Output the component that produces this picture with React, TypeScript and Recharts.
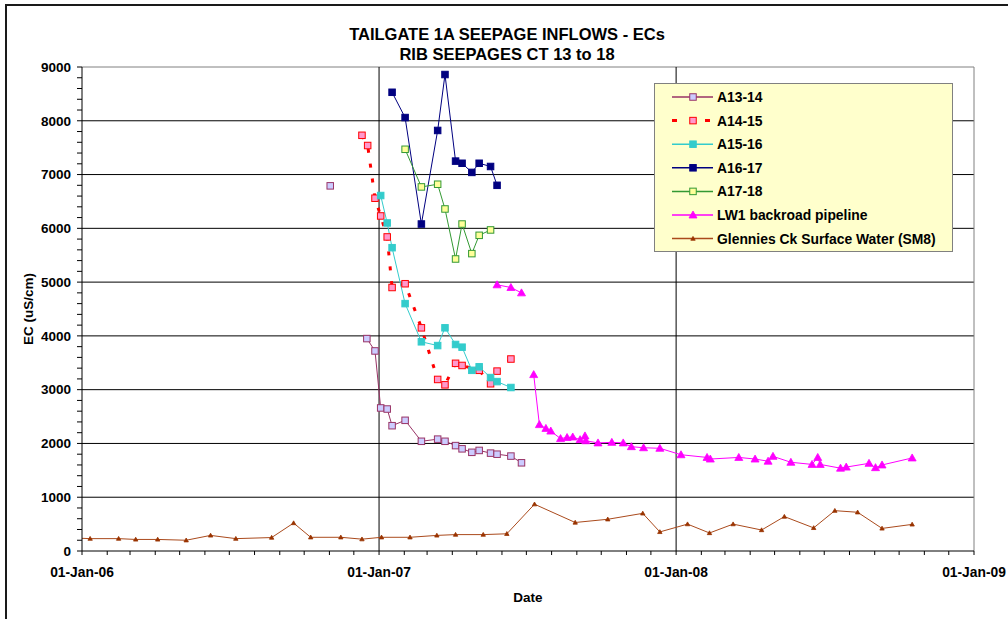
import React from 'react';
import { LineChart, Line, XAxis, YAxis, ReferenceLine, Legend, Label } from 'recharts';

type Pt = [string, number];

const FONT = 'Arial, "Liberation Sans", sans-serif';

// sample dates / EC readings (uS/cm)
const A13_14_FIRST: Pt[] = [['2006-11-02', 6790]];
const A13_14: Pt[] = [
  ['2006-12-17', 3950], ['2006-12-27', 3720], ['2007-01-03', 2660], ['2007-01-11', 2640],
  ['2007-01-17', 2330], ['2007-02-02', 2430], ['2007-02-22', 2040], ['2007-03-14', 2080],
  ['2007-03-23', 2040], ['2007-04-05', 1960], ['2007-04-13', 1900], ['2007-04-25', 1835],
  ['2007-05-04', 1870], ['2007-05-18', 1820], ['2007-05-26', 1800], ['2007-06-12', 1765],
  ['2007-06-25', 1640],
];
const A14_15: Pt[] = [
  ['2006-12-11', 7730], ['2006-12-18', 7540], ['2006-12-27', 6560], ['2007-01-03', 6230],
  ['2007-01-11', 5840], ['2007-01-17', 4900], ['2007-02-02', 4970], ['2007-02-22', 4150],
  ['2007-03-14', 3190], ['2007-03-23', 3090], ['2007-04-05', 3490], ['2007-04-13', 3450],
  ['2007-05-04', 3360], ['2007-05-18', 3110], ['2007-05-26', 3345], ['2007-06-12', 3570],
];
const A15_16: Pt[] = [
  ['2007-01-03', 6610], ['2007-01-11', 6100], ['2007-01-17', 5640], ['2007-02-02', 4600],
  ['2007-02-22', 3890], ['2007-03-14', 3820], ['2007-03-23', 4150], ['2007-04-05', 3840],
  ['2007-04-13', 3790], ['2007-04-25', 3360], ['2007-05-04', 3425], ['2007-05-18', 3225],
  ['2007-05-26', 3150], ['2007-06-12', 3040],
];
const A16_17: Pt[] = [
  ['2007-01-17', 8530], ['2007-02-02', 8060], ['2007-02-22', 6080], ['2007-03-14', 7820],
  ['2007-03-23', 8860], ['2007-04-05', 7250], ['2007-04-13', 7210], ['2007-04-25', 7040],
  ['2007-05-04', 7210], ['2007-05-18', 7150], ['2007-05-26', 6800],
];
const A17_18: Pt[] = [
  ['2007-02-02', 7470], ['2007-02-22', 6770], ['2007-03-14', 6820], ['2007-03-23', 6360],
  ['2007-04-05', 5430], ['2007-04-13', 6080], ['2007-04-25', 5530], ['2007-05-04', 5870],
  ['2007-05-18', 5970],
];
const LW1_FIRST: Pt[] = [['2007-05-26', 4950], ['2007-06-12', 4900], ['2007-06-25', 4800]];
const LW1: Pt[] = [
  ['2007-07-10', 3280], ['2007-07-17', 2350], ['2007-07-25', 2280], ['2007-07-31', 2230],
  ['2007-08-12', 2090], ['2007-08-20', 2110], ['2007-08-27', 2120], ['2007-09-05', 2070],
  ['2007-09-11', 2140], ['2007-09-12', 2050], ['2007-09-27', 2010], ['2007-10-14', 2020],
  ['2007-10-28', 2010], ['2007-11-07', 1940], ['2007-11-22', 1920], ['2007-12-12', 1910],
  ['2008-01-07', 1790], ['2008-02-08', 1740], ['2008-02-12', 1710], ['2008-03-18', 1740],
  ['2008-04-07', 1710], ['2008-04-23', 1670], ['2008-04-29', 1760], ['2008-05-21', 1650],
  ['2008-06-16', 1610], ['2008-06-23', 1740], ['2008-06-26', 1610], ['2008-07-21', 1540],
  ['2008-07-28', 1560], ['2008-08-25', 1630], ['2008-09-02', 1550], ['2008-09-10', 1600],
  ['2008-10-17', 1730],
];
const SM8: Pt[] = [
  ['2005-12-15', 245], ['2006-01-11', 230], ['2006-02-15', 230], ['2006-03-08', 215],
  ['2006-04-04', 215], ['2006-05-09', 200], ['2006-06-08', 290], ['2006-07-09', 230],
  ['2006-08-22', 250], ['2006-09-18', 520], ['2006-10-09', 255], ['2006-11-15', 255],
  ['2006-12-11', 220], ['2007-01-04', 255], ['2007-02-08', 255], ['2007-03-13', 290],
  ['2007-04-05', 305], ['2007-05-09', 305], ['2007-06-07', 320], ['2007-07-11', 870],
  ['2007-08-30', 530], ['2007-10-09', 590], ['2007-11-21', 700], ['2007-12-12', 355],
  ['2008-01-15', 500], ['2008-02-11', 335], ['2008-03-11', 500], ['2008-04-15', 390],
  ['2008-05-13', 640], ['2008-06-18', 430], ['2008-07-14', 750], ['2008-08-11', 720],
  ['2008-09-10', 420], ['2008-10-17', 495],
];

const YEAR_DATES = ['2006-01-01', '2007-01-01', '2008-01-01', '2009-01-01'];
const YEAR_LABELS = ['01-Jan-06', '01-Jan-07', '01-Jan-08', '01-Jan-09'];
const Y_LABELS = [0, 1000, 2000, 3000, 4000, 5000, 6000, 7000, 8000, 9000];
const Y_MINOR_STEP = 200;

const day = (s: string) => Date.parse(s + 'T00:00:00Z');
const pts = (rows: Pt[]) => rows.map(([d, v]) => ({ t: day(d), v }));

const YEAR_TICKS = YEAR_DATES.map(day);
// month-start minor ticks along the date axis
const MONTH_TICKS: number[] = [];
for (let y = 2006; y <= 2008; y++) for (let m = 0; m < 12; m++) MONTH_TICKS.push(Date.UTC(y, m, 1));
MONTH_TICKS.push(YEAR_TICKS[3]);
const Y_TICKS: number[] = [];
for (let v = 0; v <= 9000; v += Y_MINOR_STEP) Y_TICKS.push(v);

type Marker = { shape: 'square' | 'tri' | 'smalltri'; fill: string; stroke: string };
type SeriesStyle = { name: string; color: string; width: number; dash?: string; legendDash?: string; marker: Marker };

const SERIES: SeriesStyle[] = [
  { name: 'A13-14', color: '#993366', width: 1, marker: { shape: 'square', fill: '#CCCCFF', stroke: '#993366' } },
  { name: 'A14-15', color: '#FF0000', width: 3, dash: '4 11', legendDash: '5 28', marker: { shape: 'square', fill: '#FF99CC', stroke: '#FF0000' } },
  { name: 'A15-16', color: '#33CCCC', width: 1, marker: { shape: 'square', fill: '#33CCCC', stroke: '#33CCCC' } },
  { name: 'A16-17', color: '#000080', width: 1, marker: { shape: 'square', fill: '#000080', stroke: '#000080' } },
  { name: 'A17-18', color: '#339933', width: 1, marker: { shape: 'square', fill: '#FFFF99', stroke: '#339933' } },
  { name: 'LW1 backroad pipeline', color: '#FF00FF', width: 1, marker: { shape: 'tri', fill: '#FF00FF', stroke: '#FF00FF' } },
  { name: 'Glennies Ck Surface Water (SM8)', color: '#AA4A1C', width: 1, marker: { shape: 'smalltri', fill: '#993300', stroke: '#993300' } },
];

const markerShape = (m: Marker, cx: number, cy: number, key?: any) => {
  if (m.shape === 'square') {
    return <rect key={key} x={cx - 3.25} y={cy - 3.25} width={6.5} height={6.5} fill={m.fill} stroke={m.stroke} strokeWidth={1} />;
  }
  const r = m.shape === 'tri' ? 4 : 2.2;
  return (
    <polygon key={key} points={`${cx},${cy - r} ${cx + r},${cy + r * 0.75} ${cx - r},${cy + r * 0.75}`}
      fill={m.fill} stroke={m.stroke} strokeWidth={0.8} />
  );
};

const dotFor = (m: Marker) => (p: any) => {
  if (p.cx == null || p.cy == null) return <g key={p.index} />;
  return markerShape(m, p.cx, p.cy, p.index);
};

const XTick = (props: any) => {
  const { x, y, payload } = props;
  const i = YEAR_TICKS.indexOf(payload.value);
  if (i < 0) return <g />;
  return (
    <text x={x} y={y + 10} dy="0.71em" textAnchor="middle" fontFamily={FONT} fontWeight="bold" fontSize={13.8} fill="#000">
      {YEAR_LABELS[i]}
    </text>
  );
};

const YTick = (props: any) => {
  const { x, y, payload } = props;
  if (!Y_LABELS.includes(payload.value)) return <g />;
  return (
    <text x={x - 4} y={y} dy="0.355em" textAnchor="end" fontFamily={FONT} fontWeight="bold" fontSize={13.5} fill="#000">
      {payload.value}
    </text>
  );
};

const LegendBox = () => (
  <div style={{ width: 299, height: 169, background: '#FFFFCC', border: '1px solid #808080', boxSizing: 'border-box' }}>
    <svg width={297} height={167}>
      {SERIES.map((s, i) => {
        const y = 13 + i * 23.6;
        return (
          <g key={s.name}>
            <line x1={17} x2={58} y1={y} y2={y} stroke={s.color} strokeWidth={s.legendDash ? 3 : 1.5} strokeDasharray={s.legendDash} />
            {markerShape(s.marker, 38, y)}
            <text x={62} y={y} dy="0.355em" fontFamily={FONT} fontWeight="bold" fontSize={13.9} fill="#000">{s.name}</text>
          </g>
        );
      })}
    </svg>
  </div>
);

const seriesLine = (rows: Pt[], s: SeriesStyle, key: string) => (
  <Line key={key} data={pts(rows)} dataKey="v" name={s.name} type="linear" stroke={s.color} strokeWidth={s.width}
    strokeDasharray={s.dash} dot={dotFor(s.marker)} activeDot={false} isAnimationActive={false} />
);

export default function App() {
  return (
    <div style={{ position: 'absolute', left: 0, top: 0, width: 1008, height: 619, background: '#fff', overflow: 'hidden' }}>
      <div style={{ position: 'absolute', left: 5, top: 4, width: 1020, height: 640, border: '2px solid #1a1a1a' }} />
      <div style={{ position: 'absolute', left: 0, top: 25, width: 1014, textAlign: 'center', fontFamily: FONT, fontWeight: 'bold', fontSize: 16.5, lineHeight: '19.5px', color: '#000', zIndex: 2 }}>
        <div>TAILGATE 1A SEEPAGE INFLOWS - ECs</div>
        <div>RIB SEEPAGES CT 13 to 18</div>
      </div>
      <div style={{ position: 'absolute', left: 0, top: 0 }}>
        <LineChart width={1008} height={619} margin={{ top: 67, right: 34, bottom: 37, left: 0 }}>
          <XAxis type="number" dataKey="t" domain={[YEAR_TICKS[0], YEAR_TICKS[3]]} allowDataOverflow
            ticks={MONTH_TICKS} interval={0} tick={<XTick />} tickSize={4} height={31}
            axisLine={{ stroke: '#000' }} tickLine={{ stroke: '#000' }}>
            <Label content={() => (
              <text x={528} y={602} textAnchor="middle" fontFamily={FONT} fontWeight="bold" fontSize={13.5} fill="#000">Date</text>
            )} />
          </XAxis>
          <YAxis type="number" domain={[0, 9000]} ticks={Y_TICKS} interval={0} tick={<YTick />} tickSize={5} width={82}
            axisLine={{ stroke: '#000' }} tickLine={{ stroke: '#000' }}>
            <Label content={() => (
              <text x={33} y={309} transform="rotate(-90, 33, 309)" textAnchor="middle" fontFamily={FONT} fontWeight="bold" fontSize={13.5} fill="#000">EC (uS/cm)</text>
            )} />
          </YAxis>
          {Y_LABELS.slice(1, -1).map((v) => (
            <ReferenceLine key={'h' + v} y={v} stroke="#000" strokeWidth={1} />
          ))}
          <ReferenceLine y={9000} stroke="#808080" strokeWidth={1} />
          <ReferenceLine x={YEAR_TICKS[1]} stroke="#000" strokeWidth={1} />
          <ReferenceLine x={YEAR_TICKS[2]} stroke="#000" strokeWidth={1} />
          <ReferenceLine x={YEAR_TICKS[3]} stroke="#808080" strokeWidth={1} />
          {seriesLine(A13_14_FIRST, SERIES[0], 'a1314a')}
          {seriesLine(A13_14, SERIES[0], 'a1314')}
          {seriesLine(A14_15, SERIES[1], 'a1415')}
          {seriesLine(A15_16, SERIES[2], 'a1516')}
          {seriesLine(A16_17, SERIES[3], 'a1617')}
          {seriesLine(A17_18, SERIES[4], 'a1718')}
          {seriesLine(LW1_FIRST, SERIES[5], 'lw1a')}
          {seriesLine(LW1, SERIES[5], 'lw1')}
          {seriesLine(SM8, SERIES[6], 'sm8')}
          <Legend layout="vertical" align="center" verticalAlign="middle" content={<LegendBox />}
            wrapperStyle={{ left: 654, top: 83, width: 299, height: 169 }} />
        </LineChart>
      </div>
    </div>
  );
}
